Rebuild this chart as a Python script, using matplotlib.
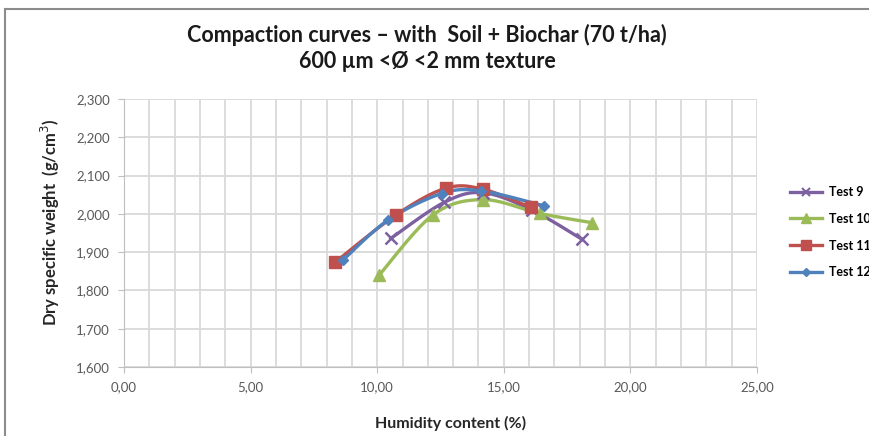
import matplotlib

matplotlib.use("Agg")
import matplotlib.pyplot as plt
import numpy as np
from matplotlib.lines import Line2D
from matplotlib.ticker import FuncFormatter, MultipleLocator

plt.rcParams["font.family"] = ["Lato", "DejaVu Sans"]

# compaction test results: humidity (%) vs dry specific weight (g/cm3 x 1000)
test9_x = [10.54, 12.65, 14.19, 16.10, 18.08]
test9_y = [1936, 2030, 2055, 2010, 1934]
test10_x = [10.08, 12.22, 14.19, 16.43, 18.47]
test10_y = [1840, 1998, 2037, 2001, 1977]
test11_x = [8.33, 10.74, 12.72, 14.19, 16.06]
test11_y = [1873, 1997, 2067, 2064, 2017]
test12_x = [8.66, 10.44, 12.55, 14.10, 16.59]
test12_y = [1880, 1984, 2053, 2060, 2021]

series = [
    ("Test 9", test9_x, test9_y, "#7d60a0", "x", 8),
    ("Test 10", test10_x, test10_y, "#9bbb59", "^", 9),
    ("Test 11", test11_x, test11_y, "#c0504d", "s", 8.5),
    ("Test 12", test12_x, test12_y, "#4f81bd", "D", 5.5),
]


def smooth(xs, ys, n=30):
    """Catmull-Rom style bezier through the points, like a spreadsheet smoothed line."""
    p = np.column_stack([xs, ys]).astype(float)
    ext = np.vstack([p[0], p, p[-1]])
    out = []
    t = np.linspace(0, 1, n)[:, None]
    for i in range(1, len(ext) - 2):
        p0, p1, p2, p3 = ext[i - 1], ext[i], ext[i + 1], ext[i + 2]
        c1 = p1 + (p2 - p0) / 6
        c2 = p2 - (p3 - p1) / 6
        seg = ((1 - t) ** 3) * p1 + 3 * ((1 - t) ** 2) * t * c1 + 3 * (1 - t) * t**2 * c2 + t**3 * p2
        out.append(seg if i == 1 else seg[1:])
    s = np.vstack(out)
    return s[:, 0], s[:, 1]


fig = plt.figure(figsize=(8.7, 4.36), dpi=100)
ax = fig.add_axes([0.1425, 0.1583, 0.7276, 0.6147])

for name, xs, ys, col, mk, ms in series:
    sx, sy = smooth(xs, ys)
    ax.plot(sx, sy, color=col, lw=2.4, zorder=3)
    ax.plot(xs, ys, ls="none", marker=mk, ms=ms, color=col, mec=col,
            mew=1.8 if mk == "x" else 1, zorder=4)

ax.set_xlim(0, 25)
ax.set_ylim(1600, 2300)
ax.xaxis.set_major_locator(MultipleLocator(5))
ax.xaxis.set_minor_locator(MultipleLocator(1))
ax.yaxis.set_major_locator(MultipleLocator(100))
ax.xaxis.set_major_formatter(FuncFormatter(lambda v, p: f"{v:.2f}".replace(".", ",")))
ax.yaxis.set_major_formatter(FuncFormatter(lambda v, p: f"{v/1000:.3f}".replace(".", ",")))
ax.grid(True, which="both", color="#d9d9d9", lw=1.3, zorder=0)
ax.set_axisbelow(True)
for side in ("top", "right"):
    ax.spines[side].set_visible(False)
for side in ("left", "bottom"):
    ax.spines[side].set_color("#bfbfbf")
ax.tick_params(which="major", length=4, color="#bfbfbf", labelsize=9.5,
               labelcolor="#595959", pad=6)
ax.tick_params(which="minor", length=0)

fig.text(451 / 870, 1 - 423 / 436, "Humidity content (%)", ha="center", va="center",
         fontsize=11.5, fontweight="bold", color="#262626")
fig.text(50 / 870, 1 - 222 / 436, "Dry specific weight  (g/cm$^3$)", ha="center",
         va="center", rotation=90, fontsize=12, fontweight="bold", color="#262626")

fig.text(0.491, 0.92, "Compaction curves \u2013 with  Soil + Biochar (70 t/ha)",
         ha="center", va="center", fontsize=15.5, fontweight="bold", color="#1a1a1a")
fig.text(0.491, 0.86, "600 \u00b5m <\u00d8 <2 mm texture",
         ha="center", va="center", fontsize=15.5, fontweight="bold", color="#1a1a1a")

handles = [Line2D([], [], color=c, marker=m, ms=ms * 0.8, lw=2.4,
                  mew=1.5 if m == "x" else 1) for _, _, _, c, m, ms in series]
fig.legend(handles, [s[0] for s in series], loc="upper left",
           bbox_to_anchor=(0.895, 0.599), frameon=False,
           handlelength=2.6, labelspacing=1.18, handletextpad=0.5,
           prop={"weight": "bold", "size": 9})

# chart frame
fig.add_artist(Line2D([5 / 870, 1], [1 - 9 / 436] * 2, transform=fig.transFigure,
                      color="#8c8c8c", lw=1.5))
fig.add_artist(Line2D([5 / 870] * 2, [0, 1 - 9 / 436], transform=fig.transFigure,
                      color="#8c8c8c", lw=1.5))

fig.savefig("out.png", dpi=100)
